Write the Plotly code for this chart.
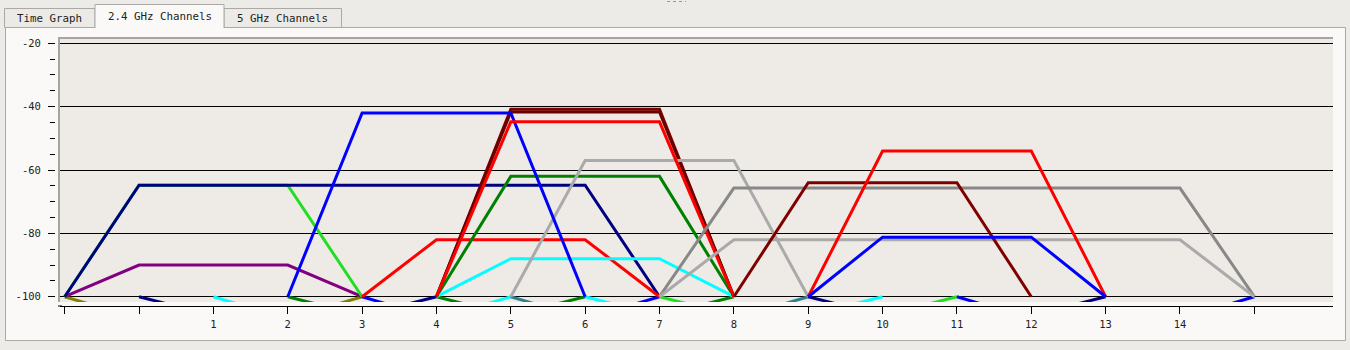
import plotly.graph_objects as go

# ---------------- data ----------------
# hidden (below -100 dBm) networks, then visible ones, in drawing order
channels = [1, 2, 3, 4, 5, 6, 7, 8, 9, 11, 13,
            1, 1, 3, 5, 6, 6, 6, 6, 7, 4, 6, 11, 11, 10, 11, 11]
levels = [-107, -106, -107, -106, -107, -106, -107, -106, -106, -106, -107,
          -90, -64.8, -64.8, -82, -62, -88, -40.8, -41.7, -57, -42, -44.8,
          -65.7, -82, -64, -54, -81.2]
widths_mhz = [20, 20, 20, 20, 20, 20, 20, 20, 20, 20, 20,
              20, 20, 40, 20, 20, 20, 20, 20, 20, 20, 20,
              40, 40, 20, 20, 20]
colors = ["#808000", "#000080", "#00ffff", "#008000", "#0000ff", "#008000",
          "#2f7f8f", "#00ffff", "#22dd22", "#000080", "#0000ff",
          "#800080", "#22dd22", "#000080", "#ff0000", "#008000", "#00ffff",
          "#800000", "#6a0000", "#aaaaaa", "#0000ff", "#ff0000",
          "#888888", "#aaaaaa", "#800000", "#ff0000", "#0000ff"]

x_tick_vals = list(range(-1, 16))
x_tick_text = ["", ""] + [str(i) for i in range(1, 15)] + [""]
y_tick_vals = [-20, -40, -60, -80, -100]
y_tick_text = ["-20", "-40", "-60", "-80", "-100"]
tabs = ["Time Graph", "2.4 GHz Channels", "5 GHz Channels"]

# ---------------- geometry ----------------
FW, FH = 1350, 350
L, R, T, B = 55, 1333, 38, 306
W, H = R - L, B - T


def px(x):
    return (x - L) / W


def py(y):
    return (B - y) / H


FONT = "DejaVu Sans Mono"
WIN = "#EDEBE8"
PANEL = "#FBF9F7"
PLOTBG = "#EEEBE7"
BORDER = "#ABA9A6"

fig = go.Figure()
for c, s, w, col in zip(channels, levels, widths_mhz, colors):
    half = 2 if w == 20 else 4
    xs = [c - half, c - half + 1, c + half - 1, c + half]
    ys = [-100, s, s, -100]
    fig.add_trace(go.Scatter(x=xs, y=ys, mode="lines",
                             line=dict(color=col, width=3),
                             hoverinfo="skip", showlegend=False))

shapes = []


def rect(x0, y0, x1, y1, fill=None, line=None, lw=1):
    shapes.append(dict(type="rect", xref="paper", yref="paper",
                       x0=px(x0), x1=px(x1), y0=py(y1), y1=py(y0),
                       fillcolor=fill if fill else "rgba(0,0,0,0)",
                       line=dict(color=line if line else "rgba(0,0,0,0)",
                                 width=lw if line else 0)))


def seg(x0, y0, x1, y1, col, lw=1, dash="solid"):
    shapes.append(dict(type="line", xref="paper", yref="paper",
                       x0=px(x0), x1=px(x1), y0=py(y0), y1=py(y1),
                       line=dict(color=col, width=lw, dash=dash)))


# window background outside the panel
rect(0, 0, FW, 27, fill=WIN)
rect(0, 0, 5, FH, fill=WIN)
rect(1345, 0, FW, FH, fill=WIN)
rect(0, 340, FW, FH, fill=WIN)
# panel border
rect(5.5, 27.5, 1345.5, 340.5, line=BORDER)
# tabs
rect(4.5, 8.5, 95, 27.5, fill="#ECEAE7", line=BORDER)
rect(224, 8.5, 341.5, 27.5, fill="#ECEAE7", line=BORDER)
rect(95, 4.5, 224, 28.5, fill=PANEL)
seg(95, 4.5, 224, 4.5, BORDER)
seg(95, 4.5, 95, 28, BORDER)
seg(224, 4.5, 224, 28, BORDER)
# split-pane grip
seg(667, 1.5, 686, 1.5, "#9a9a9a", 1, "dot")
# sunken plot border
seg(58, 38, 1333, 38, "#A7A39F", 2)
seg(59, 37, 59, 302, "#A7A39F", 2)
# x axis line starts under the left border
seg(58, 306, 62, 306, "black", 1)

annotations = []
tab_centers = [(49.5, 18), (159.5, 17), (282.5, 18)]
for t, (cx, cy) in zip(tabs, tab_centers):
    annotations.append(dict(text=t, xref="paper", yref="paper",
                            x=px(cx), y=py(cy), xanchor="center",
                            yanchor="middle", showarrow=False,
                            font=dict(family=FONT, size=10.8, color="#222222")))

fig.update_layout(
    width=FW, height=FH,
    margin=dict(l=L, r=FW - R, t=T, b=FH - B, pad=0),
    paper_bgcolor=PANEL, plot_bgcolor=PLOTBG,
    showlegend=False, hovermode=False,
    shapes=shapes, annotations=annotations,
    xaxis=dict(domain=[(60 - L) / W, 1], range=[-1.063, 16.058],
               anchor="free", position=0,
               showline=True, linecolor="black", linewidth=1,
               ticks="outside", ticklen=7, tickcolor="black", tickwidth=1,
               tickvals=x_tick_vals, ticktext=x_tick_text,
               ticklabelstandoff=1,
               tickfont=dict(family=FONT, size=10.5, color="#222222"),
               showgrid=False, zeroline=False, fixedrange=True),
    yaxis=dict(domain=[(B - 302) / H, 1], range=[-101.67, -18.33],
               anchor="free", position=0,
               showline=False,
               ticks="outside", ticklen=7, tickcolor="black", tickwidth=1,
               tickvals=y_tick_vals, ticktext=y_tick_text,
               ticklabelstandoff=5,
               tickfont=dict(family=FONT, size=10.5, color="#222222"),
               minor=dict(ticks="outside", ticklen=5, tickcolor="black",
                          dtick=5, tick0=0, showgrid=False),
               showgrid=True, gridcolor="black", gridwidth=1,
               zeroline=False, fixedrange=True),
)

fig.write_html("out.html", config={"displayModeBar": False})
